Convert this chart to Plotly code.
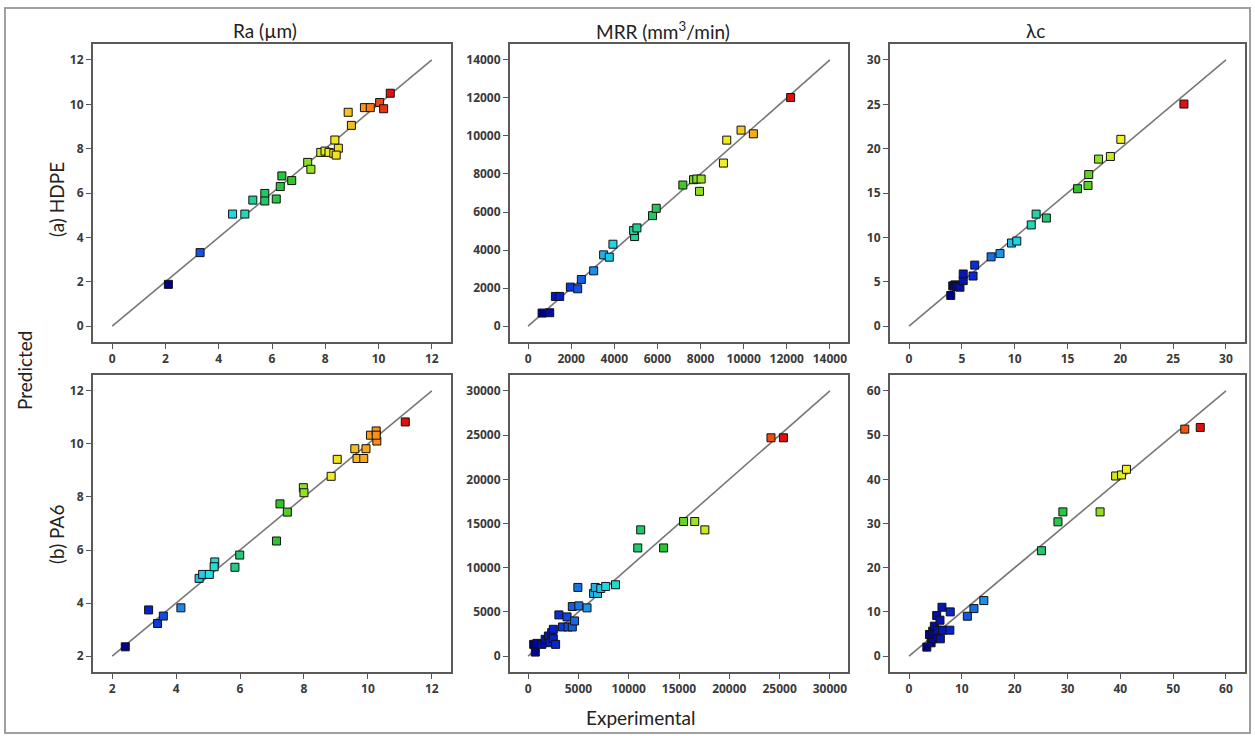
import plotly.graph_objects as go

# ---------------- data (Experimental = x, Predicted = y) ----------------
ra_hdpe_exp = [2.11, 3.30, 4.52, 4.98, 5.28, 5.73, 5.73, 6.16, 6.31, 6.37, 6.74, 7.34, 7.46, 7.83, 7.99,
               8.14, 8.32, 8.49, 8.36, 8.41, 8.98, 8.86, 9.47, 9.69, 10.04, 10.19, 10.44]
ra_hdpe_pred = [1.88, 3.31, 5.05, 5.05, 5.68, 5.98, 5.64, 5.73, 6.29, 6.77, 6.56, 7.38, 7.07, 7.83, 7.89,
                7.83, 7.79, 8.02, 8.39, 7.71, 9.05, 9.64, 9.85, 9.85, 10.08, 9.80, 10.50]

mrr_hdpe_exp = [648, 1003, 1266, 1466, 1960, 2300, 2470, 3041, 3504, 3766, 3936, 4940, 4893, 5048, 5773,
                5943, 7178, 7672, 7826, 8027, 7950, 9061, 9215, 9879, 10450, 12179]
mrr_hdpe_pred = [683, 700, 1558, 1558, 2048, 1960, 2450, 2905, 3745, 3623, 4305, 4708, 5023, 5163, 5810,
                 6195, 7420, 7700, 7735, 7735, 7088, 8575, 9783, 10308, 10115, 12023]

lc_hdpe_exp = [3.95, 4.14, 4.35, 4.51, 4.82, 5.13, 5.13, 6.06, 6.22, 7.77, 8.61, 9.70, 10.20, 11.57, 12.03,
               13.0, 15.95, 16.94, 17.01, 17.94, 19.06, 20.05, 26.02]
lc_hdpe_pred = [3.45, 4.53, 4.64, 4.46, 4.38, 5.12, 5.87, 5.64, 6.87, 7.80, 8.17, 9.36, 9.58, 11.40, 12.62,
                12.18, 15.48, 15.85, 17.08, 18.82, 19.12, 21.05, 25.03]

ra_pa6_exp = [2.41, 3.14, 3.42, 3.60, 4.15, 4.72, 4.83, 5.04, 5.21, 5.19, 5.84, 5.99, 7.14, 7.25, 7.48,
              7.98, 8.00, 8.85, 9.04, 9.59, 9.66, 9.87, 9.94, 10.08, 10.26, 10.28, 10.26, 11.17]
ra_pa6_pred = [2.35, 3.74, 3.23, 3.51, 3.82, 4.93, 5.08, 5.08, 5.55, 5.37, 5.35, 5.81, 6.34, 7.74, 7.43,
               8.35, 8.16, 8.78, 9.42, 9.82, 9.45, 9.45, 9.82, 10.33, 10.49, 10.11, 10.33, 10.83]

mrr_pa6_exp = [553, 716, 879, 1367, 1692, 2017, 2180, 2343, 2505, 2733, 2505, 3059, 3416, 3872, 3970,
               4393, 4620, 4393, 5043, 5857, 4946, 6508, 6898, 6670, 7223, 7711, 8688, 10900, 11193,
               13470, 15455, 16562, 17570, 24143, 25380]
mrr_pa6_pred = [1326, 455, 1439, 1326, 1894, 2273, 1515, 2652, 1970, 1326, 3030, 4659, 3295, 4432, 3295,
                3295, 3977, 5606, 5682, 5455, 7765, 7083, 7083, 7765, 7651, 7879, 8068, 12235, 14280,
                12235, 15227, 15227, 14280, 24697, 24697]

lc_pa6_exp = [3.37, 4.18, 4.49, 3.87, 4.49, 5.11, 5.93, 4.80, 5.43, 6.36, 7.73, 5.24, 5.86, 6.24, 7.80,
              11.04, 12.29, 14.16, 25.07, 28.19, 29.13, 36.17, 39.11, 40.23, 41.16, 52.2, 55.13]
lc_pa6_pred = [2.03, 3.01, 3.91, 4.89, 5.64, 5.64, 3.91, 6.77, 5.86, 5.86, 5.86, 9.17, 8.12, 11.05, 10.0,
               9.02, 10.75, 12.56, 23.84, 30.38, 32.63, 32.63, 40.75, 40.98, 42.26, 51.35, 51.73]

# axis extents and tick steps per panel: (low, high, step)
axis_ra_hdpe = (0, 12, 2)
axis_mrr_hdpe = (0, 14000, 2000)
axis_lc_hdpe = (0, 30, 5)
axis_ra_pa6 = (2, 12, 2)
axis_mrr_pa6 = (0, 30000, 5000)
axis_lc_pa6 = (0, 60, 10)

col_titles = ["Ra (µm)", "MRR (mm<sup>3</sup>/min)", "λc"]
row_titles = ["(a) HDPE", "(b) PA6"]
x_title = "Experimental"
y_title = "Predicted"

panels = [
    (ra_hdpe_exp, ra_hdpe_pred, axis_ra_hdpe),
    (mrr_hdpe_exp, mrr_hdpe_pred, axis_mrr_hdpe),
    (lc_hdpe_exp, lc_hdpe_pred, axis_lc_hdpe),
    (ra_pa6_exp, ra_pa6_pred, axis_ra_pa6),
    (mrr_pa6_exp, mrr_pa6_pred, axis_mrr_pa6),
    (lc_pa6_exp, lc_pa6_pred, axis_lc_pa6),
]

# ---------------- layout geometry ----------------
W, H = 1255, 736
col_px = [(93, 451), (510, 848), (890, 1245)]
row_px = [(44, 342), (375, 672)]

colorscale = [
    [0.0, "#00008c"], [0.1, "#0a2ad8"], [0.2, "#1c8ae8"], [0.3, "#22e0e6"],
    [0.42, "#22c86a"], [0.55, "#2ec428"], [0.65, "#a4e424"], [0.73, "#f2f022"],
    [0.82, "#f2c020"], [0.9, "#ff8a12"], [1.0, "#e01010"],
]

fig = go.Figure()
tickfont = dict(family="Open Sans", size=12, color="#3a3a3a", weight=700)

for i, (xs, ys, (lo, hi, step)) in enumerate(panels):
    r, c = divmod(i, 3)
    n = i + 1
    xa = "x" if n == 1 else f"x{n}"
    ya = "y" if n == 1 else f"y{n}"
    pad = (hi - lo) * 0.06
    rng = [lo - pad, hi + pad]
    ticks = list(range(lo, hi + 1, step))

    # y = x reference line
    fig.add_trace(go.Scatter(x=[lo, hi], y=[lo, hi], mode="lines",
                             line=dict(color="#777777", width=1.6),
                             xaxis=xa, yaxis=ya, showlegend=False, hoverinfo="skip"))
    fig.add_trace(go.Scatter(x=xs, y=ys, mode="markers",
                             marker=dict(symbol="square", size=8, color=xs,
                                         colorscale=colorscale, cmin=min(xs), cmax=max(xs),
                                         line=dict(color="#111111", width=1)),
                             xaxis=xa, yaxis=ya, showlegend=False))

    x0, x1 = col_px[c]
    y0, y1 = row_px[r]
    axis_common = dict(showline=True, mirror=True, linecolor="#5a5a5a", linewidth=2,
                       showgrid=False, zeroline=False, ticks="outside", ticklen=5,
                       tickwidth=1, tickcolor="#555555", tickfont=tickfont,
                       tickformat="d", separatethousands=False)
    fig.layout[("xaxis" if n == 1 else f"xaxis{n}")] = dict(
        domain=[x0 / W, x1 / W], range=rng, tickvals=ticks, anchor=ya, **axis_common)
    fig.layout[("yaxis" if n == 1 else f"yaxis{n}")] = dict(
        domain=[1 - y1 / H, 1 - y0 / H], range=rng, tickvals=ticks, anchor=xa, **axis_common)

title_font = dict(family="Lato", size=19, color="#222222")
col_centers = [265, 663, 1035]
for t, cx in zip(col_titles, col_centers):
    fig.add_annotation(text=t, x=cx / W, y=1 - 30 / H, xref="paper", yref="paper",
                       showarrow=False, font=title_font, xanchor="center", yanchor="middle")
for t, cy in zip(row_titles, [200, 535]):
    fig.add_annotation(text=t, x=56 / W, y=1 - cy / H, xref="paper", yref="paper",
                       showarrow=False, font=title_font, textangle=-90,
                       xanchor="center", yanchor="middle")
fig.add_annotation(text=y_title, x=25 / W, y=1 - 370 / H, xref="paper", yref="paper",
                   showarrow=False, font=title_font, textangle=-90,
                   xanchor="center", yanchor="middle")
fig.add_annotation(text=x_title, x=640 / W, y=1 - 717 / H, xref="paper", yref="paper",
                   showarrow=False, font=title_font, xanchor="center", yanchor="middle")

# outer frame
fig.add_shape(type="rect", xref="paper", yref="paper",
              x0=5 / W, x1=1250 / W, y0=1 - 733 / H, y1=1 - 8 / H,
              line=dict(color="#a0a0a0", width=2), layer="below")

fig.update_layout(width=W, height=H, margin=dict(l=0, r=0, t=0, b=0),
                  paper_bgcolor="white", plot_bgcolor="white")

fig.write_html("out.html")
